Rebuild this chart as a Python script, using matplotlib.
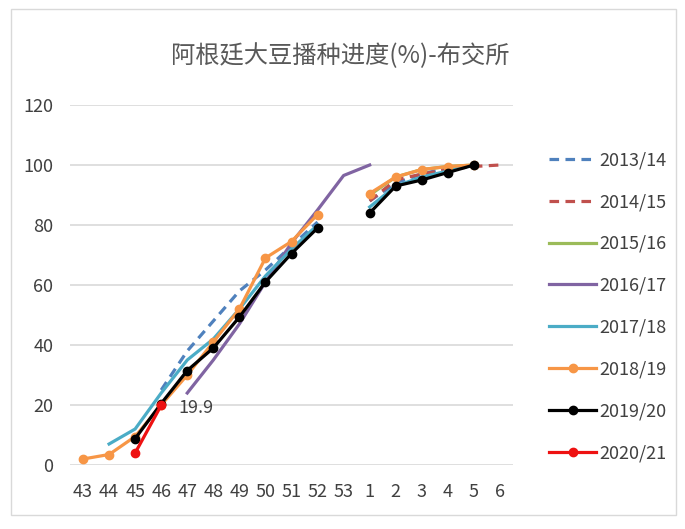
import numpy as np
import matplotlib
matplotlib.use("Agg")
import matplotlib.pyplot as plt
from matplotlib.patches import Rectangle

plt.rcParams['font.family'] = ['Noto Sans CJK SC', 'DejaVu Sans']

nan = np.nan
weeks = ['43', '44', '45', '46', '47', '48', '49', '50', '51', '52', '53', '1', '2', '3', '4', '5', '6']
yticks = [0, 20, 40, 60, 80, 100, 120]
title = '阿根廷大豆播种进度(%)-布交所'

s2013_14 = [nan, nan, nan, 25, 38, 48, 58, 65, 73, 81, nan, 88, 94, 97, 99, 100, nan]
s2014_15 = [nan, nan, nan, nan, nan, nan, nan, nan, nan, nan, nan, 88, 95, 97, 98.5, 99.5, 100]
s2015_16 = [nan, nan, nan, nan, nan, nan, nan, nan, nan, nan, nan, 90, 96, 98.5, 99.5, 100, nan]
s2016_17 = [nan, nan, nan, nan, 24, 35, 47, 61, 74, 85, 96.5, 100, nan, nan, nan, nan, nan]
s2017_18 = [nan, 7, 12, 24, 35, 42, 52, 63, 72, 80, nan, 86, 93, 96, 98, 100, nan]
s2018_19 = [2, 3.5, 9.5, 20, 30, 41, 52, 69, 74.5, 83.5, nan, 90.5, 96, 98.5, 99.5, 100, nan]
s2019_20 = [nan, nan, 8.8, 20.5, 31.5, 39, 49.3, 61, 70.5, 79, nan, 84, 93, 95, 97.5, 100, nan]
s2020_21 = [nan, nan, 4, 19.9, nan, nan, nan, nan, nan, nan, nan, nan, nan, nan, nan, nan, nan]

labels = ['2013/14', '2014/15', '2015/16', '2016/17', '2017/18', '2018/19', '2019/20', '2020/21']
series = [s2013_14, s2014_15, s2015_16, s2016_17, s2017_18, s2018_19, s2019_20, s2020_21]
colors = ['#4F81BD', '#C0504D', '#9BBB59', '#8064A2', '#4BACC6', '#F79646', '#000000', '#EE1111']
styles = ['--', '--', '-', '-', '-', '-', '-', '-']
markers = [None, None, None, None, None, 'o', 'o', 'o']

fig = plt.figure(figsize=(6.85, 5.29), dpi=100)
fig.patches.append(Rectangle((11/685, 1-515/529), 665/685, 506/529, transform=fig.transFigure,
                             fill=False, edgecolor='#d9d9d9', linewidth=1.0))
ax = fig.add_axes([70/685, 1-465/529, 443/685, 360/529])
x = np.arange(len(weeks))
handles = []
for s, lab, c, ls, m in zip(series, labels, colors, styles, markers):
    h, = ax.plot(x, s, linestyle=ls, color=c, linewidth=2.3, marker=m, markersize=6,
                 label=lab, dashes=(3, 2) if ls == '--' else (None, None))
    handles.append(h)

ax.annotate('19.9', xy=(3, 19.9), xytext=(3.65, 19.0), textcoords='data',
            fontsize=13, color='#404040', va='center', ha='left')

ax.set_xlim(-0.5, len(weeks) - 0.5)
ax.set_ylim(0, 120)
ax.set_xticks(x)
ax.set_xticklabels(weeks)
ax.set_yticks(yticks)
ax.tick_params(axis='both', length=0, labelsize=13, colors='#404040')
ax.tick_params(axis='y', pad=12)
ax.tick_params(axis='x', pad=13)
for sp in ax.spines.values():
    sp.set_visible(False)
ax.grid(axis='y', color='#d9d9d9', linewidth=1.2)
ax.set_axisbelow(True)

fig.text(340/685, 1-56/529, title, ha='center', va='center', fontsize=17.5, color='#595959')

fig.legend(handles=handles, loc='upper left', bbox_to_anchor=(533/685, 1-135/529),
           frameon=False, fontsize=13, labelspacing=1.32, handlelength=2.6,
           handletextpad=0.15, labelcolor='#404040')

fig.savefig('out.png', dpi=100)
